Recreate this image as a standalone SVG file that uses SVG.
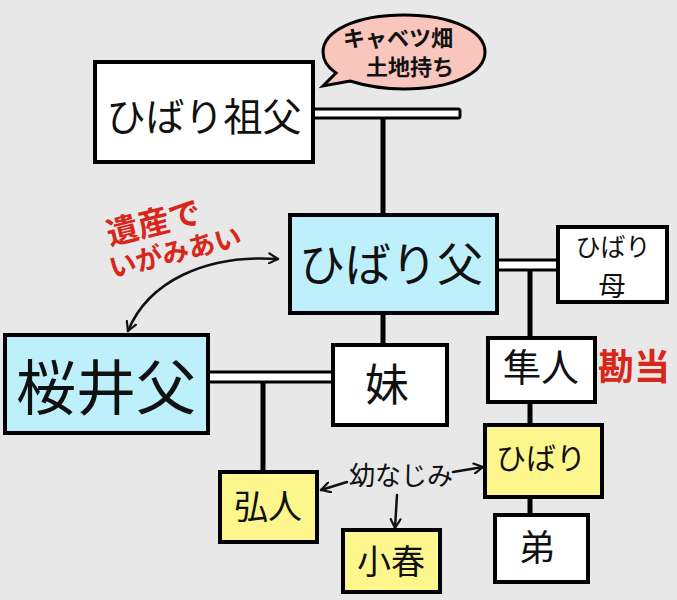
<svg xmlns="http://www.w3.org/2000/svg" width="677" height="600" viewBox="0 0 677 600">
<defs>
<style>
.box{stroke:#000;stroke-width:4;stroke-linejoin:miter}
.w{fill:#fff}
.c{fill:#bdf0fb}
.y{fill:#fdf68c}
.t{font-family:"Noto Sans CJK JP","Noto Sans CJK SC",sans-serif;fill:#111;text-anchor:middle}
.r{font-family:"Noto Sans CJK JP","Noto Sans CJK SC",sans-serif;fill:#d8261a;font-weight:bold;text-anchor:middle}
.ln{stroke:#000;stroke-width:5;fill:none}
.dbl{fill:#fff;stroke:#000;stroke-width:3}
.ar{stroke:#111;stroke-width:2.5;fill:none;stroke-linecap:round;stroke-linejoin:round}
</style>
<marker id="v" viewBox="0 0 12 12" refX="10" refY="6" markerWidth="12" markerHeight="12" markerUnits="userSpaceOnUse" orient="auto-start-reverse">
<path d="M1,1 L10,6 L1,11" fill="none" stroke="#111" stroke-width="2.2" stroke-linecap="round" stroke-linejoin="round"/>
</marker>
</defs>
<rect width="677" height="600" fill="#e8e8e8"/>

<g id="connectors">
<rect class="dbl" x="313" y="109" width="147" height="9" rx="2"/>
<line class="ln" x1="383" y1="118" x2="383" y2="215"/>
<line class="ln" x1="383" y1="313" x2="383" y2="345"/>
<rect class="dbl" x="497" y="260" width="61" height="10"/>
<line class="ln" x1="530" y1="270" x2="530" y2="338"/>
<line class="ln" x1="530" y1="402" x2="530" y2="425"/>
<line class="ln" x1="530" y1="497" x2="530" y2="515"/>
<rect class="dbl" x="208" y="372" width="125" height="10"/>
<line class="ln" x1="263" y1="382" x2="263" y2="472"/>
<path class="ar" d="M278,259 C205,254 148,282 128,331" marker-start="url(#v)" marker-end="url(#v)"/>
<line class="ar" x1="347" y1="482" x2="321" y2="490" marker-end="url(#v)"/>
<line class="ar" x1="453" y1="472" x2="483" y2="467" marker-end="url(#v)"/>
<line class="ar" x1="397" y1="495" x2="395" y2="528" marker-end="url(#v)"/>
</g>

<g id="bubble">
<path d="M404,15 C452,15 485,31 485,52 C485,73 452,89 404,89 C385,89 366,86 350,81 L323,86 L336,73 C327,67 323,60 323,52 C323,31 356,15 404,15 Z" fill="#f8c6bc" stroke="#000" stroke-width="3"/>
<text class="t" x="398" y="46" font-size="22" font-weight="bold">キャベツ畑</text>
<text class="t" x="410" y="75" font-size="22" font-weight="bold">土地持ち</text>
</g>

<g id="grandfather">
<rect class="box w" x="95" y="62" width="218" height="100"/>
<text class="t" x="204" y="131" font-size="39">ひばり祖父</text>
</g>

<g id="father">
<rect class="box c" x="290" y="215" width="207" height="98"/>
<text class="t" x="391" y="281" font-size="46">ひばり父</text>
</g>

<g id="mother">
<rect class="box w" x="558" y="227" width="109" height="75"/>
<text class="t" x="613" y="256" font-size="25">ひばり</text>
<text class="t" x="612" y="296" font-size="27">母</text>
</g>

<g id="sakurai-father">
<rect class="box c" x="5" y="335" width="203" height="98"/>
<text class="t" x="106" y="410" font-size="60">桜井父</text>
</g>

<g id="sister">
<rect class="box w" x="333" y="345" width="114" height="80"/>
<text class="t" x="387" y="401" font-size="44">妹</text>
</g>

<g id="hayato">
<rect class="box w" x="488" y="338" width="107" height="64"/>
<text class="t" x="541" y="381" font-size="38">隼人</text>
</g>

<g id="hibari">
<rect class="box y" x="485" y="425" width="117" height="72"/>
<text class="t" x="541" y="469" font-size="30">ひばり</text>
</g>

<g id="brother">
<rect class="box w" x="495" y="515" width="93" height="67"/>
<text class="t" x="537" y="561" font-size="36">弟</text>
</g>

<g id="hiroto">
<rect class="box y" x="220" y="472" width="97" height="70"/>
<text class="t" x="268" y="519" font-size="34">弘人</text>
</g>

<g id="koharu">
<rect class="box y" x="343" y="530" width="97" height="62"/>
<text class="t" x="391" y="574" font-size="34">小春</text>
</g>

<g id="labels">
<text class="r" x="634" y="380" font-size="36">勘当</text>
<g transform="rotate(-14 165 240)">
<text class="r" x="158" y="232" font-size="32">遺産で</text>
<text class="r" x="172" y="264" font-size="27">いがみあい</text>
</g>
<text class="t" x="401" y="485" font-size="26">幼なじみ</text>
</g>
</svg>
